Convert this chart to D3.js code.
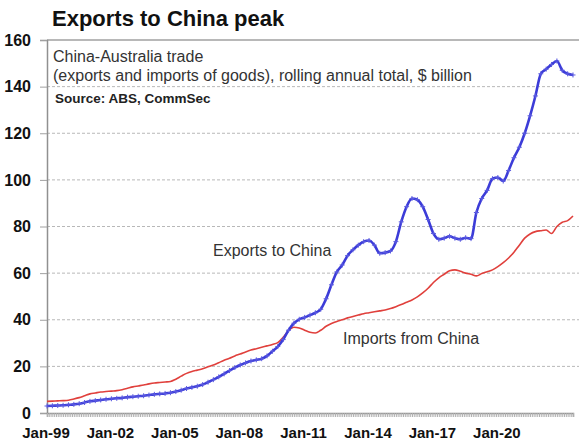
<!DOCTYPE html>
<html>
<head>
<meta charset="utf-8">
<script src="https://cdn.jsdelivr.net/npm/d3@7"></script>
<style>
  body { margin: 0; background: #fff; }
  svg { font-family: "Liberation Sans", Arial, sans-serif; }
</style>
</head>
<body>
<svg id="chart" width="579" height="442"></svg>
<script>
// quarterly samples starting Jan-99 (every 3 months), $ billion
var exportsToChina = [3.0, 3.1, 3.2, 3.3, 3.5, 3.7, 4.0, 4.5, 5.0, 5.3,
  5.6, 5.9, 6.1, 6.3, 6.5, 6.8, 7.0, 7.2, 7.4, 7.7,
  8.0, 8.2, 8.4, 8.7, 9.2, 9.8, 10.5, 11.0, 11.5, 12.2,
  13.2, 14.3, 15.5, 16.8, 18.2, 19.5, 20.6, 21.5, 22.3, 22.8,
  23.3, 24.5, 26.5, 28.5, 31.5, 35.5, 38.5, 40.2, 41.0, 42.0,
  43.0, 44.5, 49.0, 55.0, 60.5, 63.5, 67.5, 70.0, 72.0, 73.5,
  74.0, 72.0, 68.5, 68.8, 69.5, 73.5, 82.0, 88.5, 92.0, 91.5,
  88.5, 83.0, 77.0, 74.5, 75.0, 75.8, 75.0, 74.5, 75.2, 74.8,
  86.0, 92.0, 95.5, 100.5, 101.0, 99.5, 104.0, 109.5, 114.0, 120.0,
  127.5, 136.0, 145.5, 147.5, 149.5, 151.0, 147.0, 145.5, 145.0];

var importsFromChina = [5.0, 5.1, 5.2, 5.3, 5.5, 6.0, 6.6, 7.4, 8.2, 8.6,
  9.0, 9.2, 9.4, 9.6, 10.0, 10.6, 11.2, 11.6, 12.0, 12.5,
  12.9, 13.1, 13.3, 13.5, 14.5, 15.8, 17.0, 17.8, 18.4, 19.0,
  19.8, 20.6, 21.6, 22.6, 23.5, 24.5, 25.3, 26.2, 27.0, 27.6,
  28.2, 28.8, 29.4, 30.2, 32.5, 35.3, 36.8, 36.5, 35.5, 34.6,
  34.3, 35.5, 37.2, 38.4, 39.3, 40.0, 40.8, 41.4, 42.0, 42.6,
  43.0, 43.4, 43.8, 44.2, 44.8, 45.6, 46.5, 47.5, 48.5, 49.8,
  51.5, 53.5, 56.0, 58.0, 59.5, 61.0, 61.4, 60.8, 60.0, 59.5,
  58.8, 59.8, 60.6, 61.4, 62.8, 64.5, 66.5, 69.0, 72.0, 75.0,
  76.8, 77.8, 78.2, 78.5, 77.0, 80.0, 81.8, 82.5, 84.5];

var xTickLabels = ["Jan-99", "Jan-02", "Jan-05", "Jan-08", "Jan-11", "Jan-14", "Jan-17", "Jan-20"];
var yTicks = [0, 20, 40, 60, 80, 100, 120, 140, 160];

var svg = d3.select("#chart");
var plotLeft = 47, plotRight = 579, plotTop = 40, plotBottom = 413;
var monthStep = 3;
var lastMonth = (exportsToChina.length - 1) * monthStep;

var x = d3.scaleLinear().domain([0, lastMonth]).range([plotLeft, 573]);
var y = d3.scaleLinear().domain([0, 160]).range([plotBottom, plotTop]);

// title
svg.append("text").attr("x", 52).attr("y", 26)
  .style("font-size", "22px").style("font-weight", "bold").attr("fill", "#111")
  .text("Exports to China peak");

// gridlines
svg.append("g").selectAll("line").data(yTicks.filter(function(d) { return d > 0 && d < 160; }))
  .enter().append("line")
  .attr("x1", plotLeft).attr("x2", plotRight)
  .attr("y1", function(d) { return y(d); }).attr("y2", function(d) { return y(d); })
  .attr("stroke", "#b8b8b8").attr("stroke-dasharray", "3,2").attr("stroke-width", 1);

// frame top + left axis
svg.append("line").attr("x1", plotLeft).attr("x2", plotRight).attr("y1", y(160)).attr("y2", y(160))
  .attr("stroke", "#a0a0a0").attr("stroke-width", 1.5);

var yAxis = d3.axisLeft(y).tickValues(yTicks).tickSize(7).tickPadding(9);
var gy = svg.append("g").attr("transform", "translate(" + plotLeft + ",0)").call(yAxis);
gy.select(".domain").attr("stroke", "#909090").attr("stroke-width", 1.5);
gy.selectAll(".tick line").attr("stroke", "#a0a0a0");
gy.selectAll(".tick text").style("font-size", "16px").style("font-weight", "bold")
  .attr("fill", "#111").attr("font-family", "Liberation Sans, Arial, sans-serif");

// x axis: monthly ticks forming a band, labels every 36 months
var monthTicks = d3.range(0, lastMonth + 1, 1);
var xAxis = d3.axisBottom(x).tickValues(monthTicks).tickSize(4).tickFormat("");
var gx = svg.append("g").attr("transform", "translate(0," + plotBottom + ")").call(xAxis);
gx.select(".domain").attr("stroke", "#909090").attr("stroke-width", 1.5);
gx.selectAll(".tick line").attr("stroke", "#b0b0b0");

svg.append("g").selectAll("text").data(xTickLabels).enter().append("text")
  .attr("x", function(d, i) { return x(i * 36) - 1; })
  .attr("y", 438)
  .attr("text-anchor", "middle")
  .style("font-size", "15px").style("font-weight", "bold").attr("fill", "#111")
  .text(function(d) { return d; });

// lines
var line = d3.line()
  .x(function(d, i) { return x(i * monthStep); })
  .y(function(d) { return y(d); })
  .curve(d3.curveMonotoneX);

svg.append("path").datum(importsFromChina)
  .attr("d", line).attr("fill", "none")
  .attr("stroke", "#e0403c").attr("stroke-width", 1.6);

svg.append("path").datum(exportsToChina)
  .attr("d", line).attr("fill", "none")
  .attr("stroke", "#3c3cd8").attr("stroke-width", 2.6);

svg.append("g").selectAll("path").data(exportsToChina).enter().append("path")
  .attr("transform", function(d, i) { return "translate(" + x(i * monthStep) + "," + y(d) + ")"; })
  .attr("d", "M-2.5,0H2.5M0,-2.5V2.5")
  .attr("stroke", "#5a5ae0").attr("stroke-width", 1);

// notes in plot
var notes = svg.append("g").attr("fill", "#333").style("font-size", "16px");
notes.append("text").attr("x", 53).attr("y", 62).text("China-Australia trade");
notes.append("text").attr("x", 53).attr("y", 81).text("(exports and imports of goods), rolling annual total, $ billion");
svg.append("text").attr("x", 55).attr("y", 103).style("font-size", "13.5px").style("font-weight", "bold")
  .attr("fill", "#222").text("Source: ABS, CommSec");

svg.append("text").attr("x", 213).attr("y", 256).style("font-size", "16px").attr("fill", "#333").text("Exports to China");
svg.append("text").attr("x", 343).attr("y", 344).style("font-size", "16px").attr("fill", "#333").text("Imports from China");
</script>
</body>
</html>
